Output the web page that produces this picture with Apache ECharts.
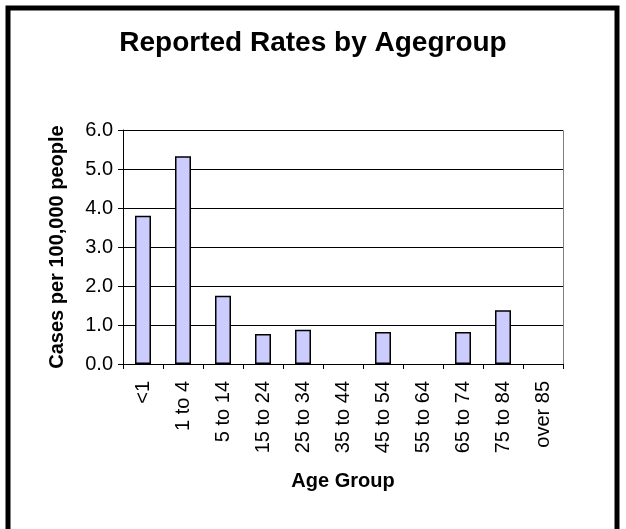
<!DOCTYPE html>
<html><head><meta charset="utf-8">
<script src="https://cdn.jsdelivr.net/npm/echarts@6/dist/echarts.min.js"></script>
<style>html,body{margin:0;padding:0;background:#fff}#c{width:626px;height:529px}</style>
</head><body><div id="c"></div>
<script>
const categories = ['<1','1 to 4','5 to 14','15 to 24','25 to 34','35 to 44','45 to 54','55 to 64','65 to 74','75 to 84','over 85'];
const rates = [3.8, 5.33, 1.75, 0.77, 0.88, 0, 0.82, 0, 0.82, 1.38, 0];
const yTicks = [0, 1, 2, 3, 4, 5, 6];
const title = 'Reported Rates by Agegroup';
const yName = 'Cases per 100,000 people';
const xName = 'Age Group';

const chart = echarts.init(document.getElementById('c'), null, {renderer:'canvas'});
const F = 'Liberation Sans, Arial, sans-serif';
chart.setOption({
  animation:false,
  backgroundColor:'#fff',
  title:{text:title,left:'center',top:24,textStyle:{fontFamily:F,fontSize:28,fontWeight:'bold',color:'#000'}},
  graphic:[{type:'rect',shape:{x:8,y:8,width:609,height:530},style:{fill:'none',stroke:'#000',lineWidth:5},silent:true},
           {type:'rect',shape:{x:123.5,y:130.5,width:440,height:234},style:{fill:'none',stroke:'#808080',lineWidth:1},silent:true,z:-1}],
  grid:{left:123,right:63,top:130,bottom:165,containLabel:false},
  xAxis:{type:'category',data:categories,
    name:xName,nameLocation:'middle',nameGap:107,
    nameTextStyle:{fontFamily:F,fontSize:20,fontWeight:'bold',color:'#000'},
    axisLine:{lineStyle:{color:'#000',width:1}},
    axisTick:{show:true,length:5,lineStyle:{color:'#000'}},
    axisLabel:{rotate:90,fontFamily:F,fontSize:20,color:'#000',margin:17,interval:0}},
  yAxis:{type:'value',min:yTicks[0],max:yTicks[yTicks.length-1],interval:1,
    name:yName,nameLocation:'middle',nameGap:56,nameRotate:90,
    nameTextStyle:{fontFamily:F,fontSize:20,fontWeight:'bold',color:'#000'},
    axisLine:{show:true,lineStyle:{color:'#000',width:1}},
    axisTick:{show:true,length:5,lineStyle:{color:'#000'}},
    axisLabel:{fontFamily:F,fontSize:20,color:'#000',margin:10,formatter:v=>v.toFixed(1)},
    splitLine:{show:true,lineStyle:{color:'#000',width:1}}},
  series:[{type:'bar',data:rates.map(v=>v===0?'-':v),barWidth:16,
    itemStyle:{color:'#ccccff',borderColor:'#000',borderWidth:1.5}}]
});
</script></body></html>
